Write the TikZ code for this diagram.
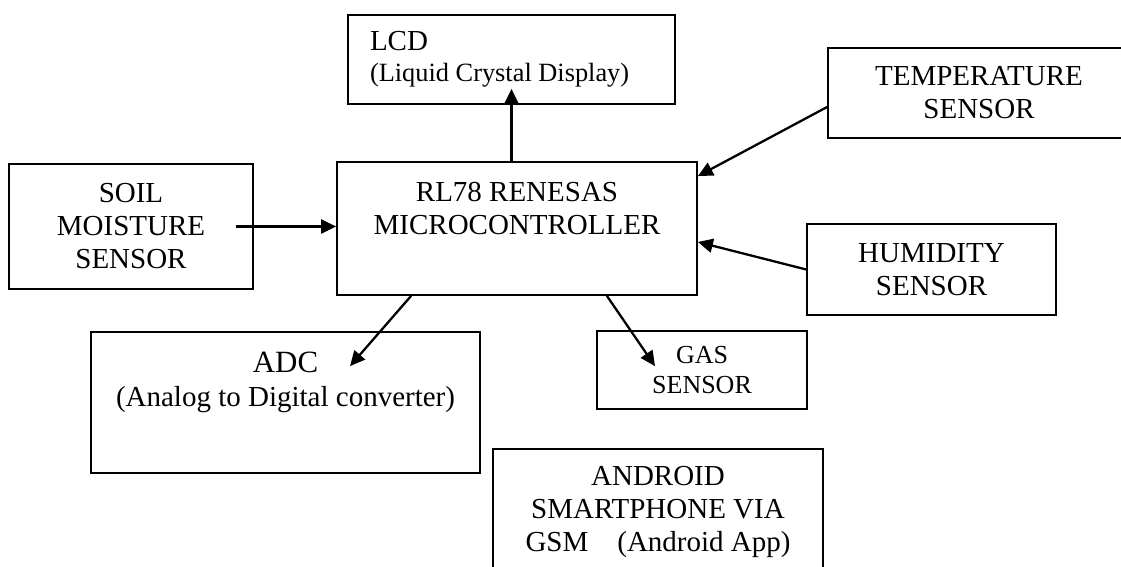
\documentclass[tikz,border=0pt]{standalone}
\usepackage{fontspec}
\setmainfont{Liberation Serif}
\usetikzlibrary{arrows.meta}

\tikzset{
  blockbox/.style = {draw, line width = 0.5pt, inner sep = 0pt, align = center,
                     font = \fontsize{8.25}{9.4}\selectfont},
  smallbox/.style = {blockbox, font = \fontsize{7.4}{8.5}\selectfont},
  boxtext/.style  = {inner sep = 0pt, align = center, anchor = north,
                     font = \fontsize{8.25}{9.6}\selectfont},
  sigarrow/.style = {->, line width = 0.65pt}
}

\begin{document}
\begin{tikzpicture}[>={Triangle[length=1.5mm, width=1.4mm]}]

\clip (0, 0) rectangle (11.21, 5.67);

\node[blockbox, minimum width = 3.60cm, minimum height = 1.33cm] (mc)  at (5.17, 3.385) {};
\node[boxtext] (mctext) at ([yshift = -0.2cm]mc.north) {RL78 RENESAS\\MICROCONTROLLER};

\node[blockbox, minimum height = 0.89cm, text width = 2.83cm, inner xsep = 0.22cm, align = flush left,
      font = \fontsize{8.25}{8.8}\selectfont] (lcd) at (5.115, 5.075)
      {LCD\\{\fontsize{7.5}{8.8}\selectfont (Liquid Crystal Display)}};

\node[blockbox, minimum width = 2.44cm, minimum height = 1.25cm] (soil) at (1.31, 3.405)
      {SOIL\\MOISTURE\\SENSOR};

\node[blockbox, minimum width = 3.02cm, minimum height = 0.90cm] (temp) at (9.79, 4.74)
      {TEMPERATURE\\SENSOR};

\node[blockbox, minimum width = 2.49cm, minimum height = 0.91cm] (hum)  at (9.315, 2.975)
      {HUMIDITY\\SENSOR};

\node[smallbox, minimum width = 2.10cm, minimum height = 0.78cm] (gas)  at (7.02, 1.97)
      {GAS\\SENSOR};

\node[blockbox, minimum width = 3.89cm, minimum height = 1.41cm] (adc)  at (2.855, 1.645) {};
\node[boxtext, font = \fontsize{8.25}{9.7}\selectfont] (adctext) at ([yshift = -0.2cm]adc.north)
      {{\fontsize{8.8}{9.7}\selectfont ADC}\\(Analog to Digital converter)};

\node[blockbox, minimum width = 3.30cm, minimum height = 1.26cm] (android) at (6.58, 0.55)
      {ANDROID\\SMARTPHONE VIA\\GSM\hspace{1em}(Android App)};

\draw[sigarrow] (lcd.south |- mc.north)          -- ([yshift = 0.16cm]lcd.south);
\draw[sigarrow] ([xshift = -0.18cm]soil.east)     -- (mc.west |- soil.east);
\draw[sigarrow] ([yshift = -0.14cm]temp.west)     -- ([yshift = -0.15cm]mc.north east);
\draw[sigarrow] (hum.west)                        -- ([yshift = -0.135cm]mc.east);
\draw[sigarrow] ([xshift = 0.75cm]mc.south west)  -- ([shift = {(0.645, -0.35)}]adc.north);
\draw[sigarrow] ([xshift = -0.91cm]mc.south east) -- ([shift = {(-0.47, -0.36)}]gas.north);

\end{tikzpicture}
\end{document}
